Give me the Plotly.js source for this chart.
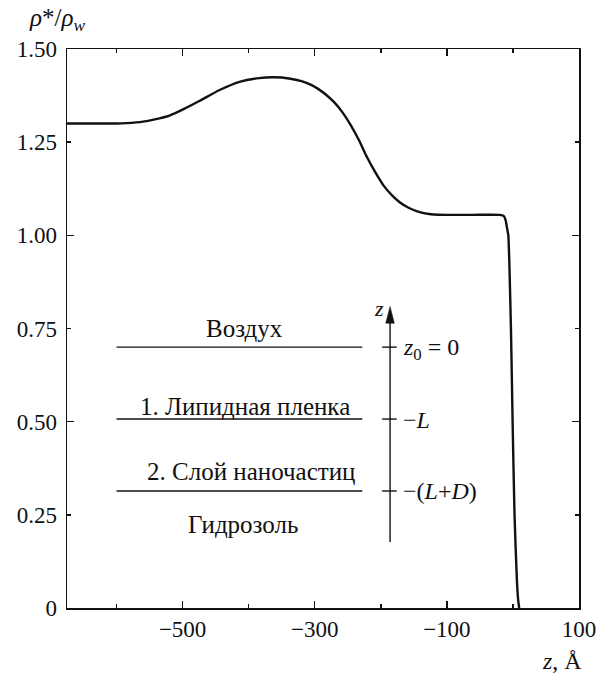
<!DOCTYPE html>
<html>
<head>
<meta charset="utf-8">
<script src="https://cdn.plot.ly/plotly-3.0.1.min.js"></script>
<style>html,body{margin:0;padding:0;background:#fff;}#chart{width:609px;height:676px;}</style>
</head>
<body>
<div id="chart"></div>
<script>
// Density profile rho*/rho_w vs z (Å)
const zValues = [-675, -600, -585, -560, -535, -519, -497, -474, -444, -414, -384, -362, -339, -320, -307, -295, -282, -270, -258, -246, -233, -221, -208, -196, -183, -171, -158, -146, -133, -120, -100, -60, -20, -14, -11, -9, -7, -3, -0.5, 2.4, 6, 8, 9.5];
const rhoValues = [1.30, 1.30, 1.301, 1.305, 1.314, 1.322, 1.34, 1.361, 1.39, 1.412, 1.422, 1.424, 1.421, 1.414, 1.405, 1.393, 1.376, 1.356, 1.330, 1.297, 1.255, 1.210, 1.168, 1.134, 1.107, 1.088, 1.074, 1.065, 1.059, 1.056, 1.055, 1.055, 1.055, 1.052, 1.04, 1.02, 1.0, 0.75, 0.5, 0.25, 0.074, 0.02, 0];

const xTickVals = [-500, -300, -100, 100];
const xTickText = ['\u2212500', '\u2212300', '\u2212100', '100'];
const xMinorVals = [-600, -400, -200, 0];
const yTickVals = [0, 0.25, 0.5, 0.75, 1.0, 1.25, 1.5];
const yTickText = ['0', '0.25', '0.50', '0.75', '1.00', '1.25', '1.50'];
const yLongTickVals = [0.5, 1.0];

const layerNames = ['Воздух', '1. Липидная пленка', '2. Слой наночастиц', 'Гидрозоль'];
const boundaryLabels = ['<i>z</i><sub>0</sub> = 0', '\u2212<i>L</i>', '\u2212(<i>L</i>+<i>D</i>)'];

const ink = '#111';
const FONT = 'Liberation Serif';

// schematic geometry (data coordinates)
const bounds = [0.70, 0.507, 0.314];
const layerLabelY = [0.749, 0.540, 0.367, 0.223];
const layerLabelX = [-406, -406, -397, -408];
const arrowX = -186;

const shapes = [];
bounds.forEach(b => {
  shapes.push({type:'line', xref:'x', yref:'y', x0:-600, x1:-228, y0:b, y1:b, line:{color:ink, width:1.4}});
  shapes.push({type:'line', xref:'x', yref:'y', x0:-198, x1:-176, y0:b, y1:b, line:{color:ink, width:1.4}});
});
shapes.push({type:'line', xref:'x', yref:'y', x0:arrowX, x1:arrowX, y0:0.177, y1:0.775, line:{color:ink, width:1.4}});
shapes.push({type:'path', xref:'x', yref:'y', path:`M ${arrowX},0.809 L ${arrowX-6.5},0.764 L ${arrowX+6.5},0.764 Z`, fillcolor:ink, line:{color:ink, width:0.5}});

const annotations = [];
layerNames.forEach((t, i) => {
  annotations.push({text:t, x:layerLabelX[i], y:layerLabelY[i], xref:'x', yref:'y', showarrow:false, xanchor:'center', yanchor:'middle', font:{family:FONT, size:25, color:ink}});
});
const bY = [0.695, 0.504, 0.315];
boundaryLabels.forEach((t, i) => {
  annotations.push({text:t, x:-170, y:bY[i], xref:'x', yref:'y', showarrow:false, xanchor:'left', yanchor:'middle', font:{family:FONT, size:24, color:ink}});
});
annotations.push({text:'<i>z</i>', x:-203, y:0.805, xref:'x', yref:'y', showarrow:false, xanchor:'center', yanchor:'middle', font:{family:FONT, size:22, color:ink}});
annotations.push({text:'<i>ρ</i>*/<i>ρ</i><sub><i>w</i></sub>', x:-0.078, y:1.052, xref:'paper', yref:'paper', showarrow:false, xanchor:'left', yanchor:'middle', font:{family:FONT, size:25, color:ink}});
annotations.push({text:'<i>z</i>, Å', x:0.967, y:-0.095, xref:'paper', yref:'paper', showarrow:false, xanchor:'center', yanchor:'middle', font:{family:FONT, size:24, color:ink}});

const trace = {x:zValues, y:rhoValues, type:'scatter', mode:'lines', line:{color:ink, width:2.4, shape:'spline', smoothing:0.5}, hoverinfo:'skip'};
const dummy = {x:[0], y:[0], yaxis:'y2', type:'scatter', mode:'markers', marker:{opacity:0}, hoverinfo:'skip', showlegend:false};

const layout = {
  width:609, height:676,
  font:{family:FONT, size:23, color:ink},
  margin:{l:67, r:30, t:49, b:68, pad:0},
  paper_bgcolor:'#fff', plot_bgcolor:'#fff',
  showlegend:false,
  xaxis:{range:[-675, 100], showgrid:false, zeroline:false, showline:true, linecolor:ink, linewidth:1.5, mirror:'ticks',
    ticks:'inside', ticklen:7, tickwidth:1.4, tickcolor:ink, tickvals:xTickVals, ticktext:xTickText,
    minor:{tickvals:xMinorVals, ticks:'inside', ticklen:4, tickwidth:1.4, tickcolor:ink},
    tickfont:{family:FONT, size:23, color:ink}},
  yaxis:{range:[0, 1.5], showgrid:false, zeroline:false, showline:true, linecolor:ink, linewidth:1.5, mirror:'ticks',
    ticks:'inside', ticklen:4, tickwidth:1.4, tickcolor:ink, tickvals:yTickVals, ticktext:yTickText,
    tickfont:{family:FONT, size:23, color:ink}, ticklabelstandoff:4},
  yaxis2:{range:[0, 1.5], overlaying:'y', side:'left', anchor:'x', showgrid:false, zeroline:false, showline:true, linecolor:ink, linewidth:1.5, mirror:'ticks',
    ticks:'inside', ticklen:7, tickwidth:1.4, tickcolor:ink, tickvals:yLongTickVals, showticklabels:false},
  shapes:shapes,
  annotations:annotations
};

Plotly.newPlot('chart', [trace, dummy], layout, {staticPlot:true, displayModeBar:false});
</script>
</body>
</html>
